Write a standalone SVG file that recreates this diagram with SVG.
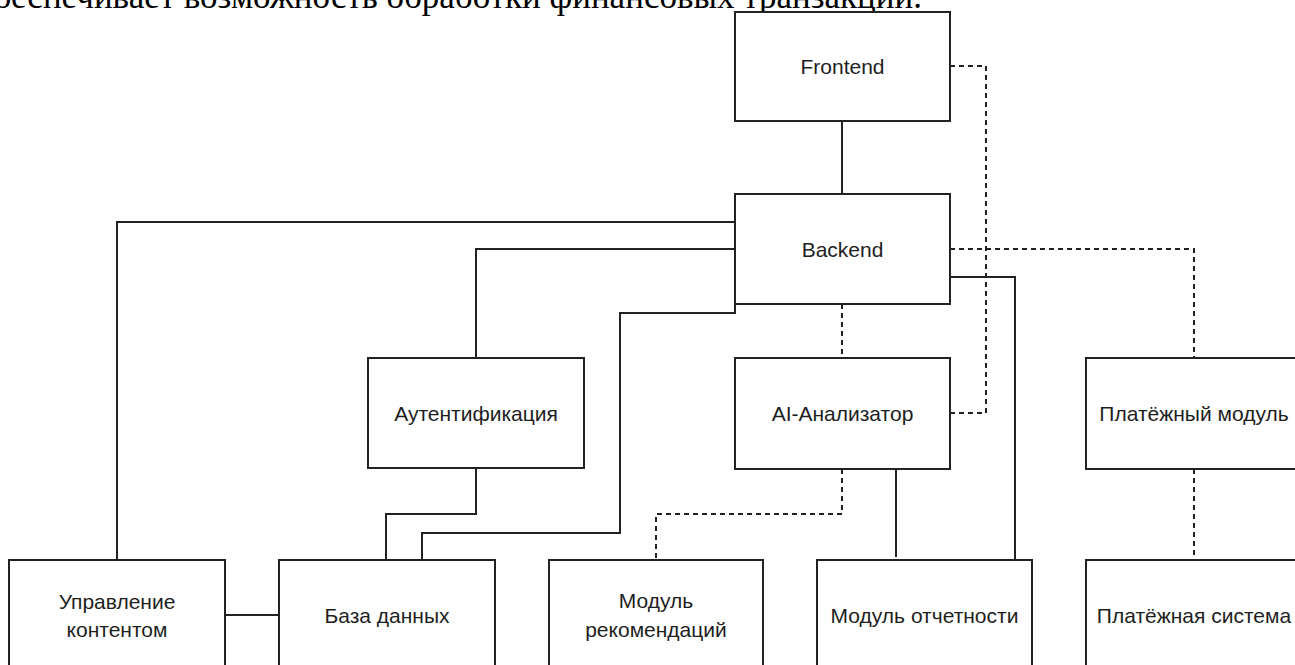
<svg xmlns="http://www.w3.org/2000/svg" width="1295" height="665" viewBox="0 0 1295 665">
<style>
.box{fill:#ffffff;stroke:#222222;stroke-width:2}
.lbl{font-family:"Liberation Sans",Arial,sans-serif;font-size:21px;fill:#1e1e1e;text-anchor:middle;dominant-baseline:central}
.solid{fill:none;stroke:#222222;stroke-width:2}
.dash{fill:none;stroke:#222222;stroke-width:2;stroke-dasharray:5,4}
.doc{font-family:"Liberation Serif","Times New Roman",serif;font-size:35px;fill:#000000}
</style>
<rect x="0" y="0" width="1295" height="665" fill="#ffffff"/>
<text class="doc" x="922" y="8" text-anchor="end">обеспечивает возможность обработки финансовых транзакций.</text>
<g id="connectors">
<path class="solid" d="M842,121 V194"/>
<path class="solid" d="M735,222 H117 V560"/>
<path class="solid" d="M735,249 H476 V358"/>
<path class="solid" d="M735,304 V313 H620 V533 H422 V560"/>
<path class="solid" d="M476,468 V514 H386 V560"/>
<path class="solid" d="M225,615 H279"/>
<path class="solid" d="M950,277 H1015 V560"/>
<path class="solid" d="M896,469 V557"/>
<path class="dash" d="M950,66 H986 V413 H950"/>
<path class="dash" d="M842,304 V358"/>
<path class="dash" d="M950,249 H1194 V358"/>
<path class="dash" d="M842,469 V514 H656 V560"/>
<path class="dash" d="M1194,469 V560"/>
</g>
<g id="frontend"><rect class="box" x="735" y="12" width="215" height="109"/><text class="lbl" x="842.5" y="66">Frontend</text></g>
<g id="backend"><rect class="box" x="735" y="194" width="215" height="110"/><text class="lbl" x="842.5" y="249">Backend</text></g>
<g id="auth"><rect class="box" x="368" y="358" width="216" height="110"/><text class="lbl" x="476" y="413">Аутентификация</text></g>
<g id="ai"><rect class="box" x="735" y="358" width="215" height="111"/><text class="lbl" x="842.5" y="413">AI-Анализатор</text></g>
<g id="paymodule"><rect class="box" x="1086" y="358" width="216" height="111"/><text class="lbl" x="1194" y="413">Платёжный модуль</text></g>
<g id="content"><rect class="box" x="9" y="560" width="216" height="112"/><text class="lbl" x="117" y="601">Управление</text><text class="lbl" x="117" y="629">контентом</text></g>
<g id="db"><rect class="box" x="279" y="560" width="216" height="112"/><text class="lbl" x="387" y="615">База данных</text></g>
<g id="recommend"><rect class="box" x="549" y="560" width="214" height="112"/><text class="lbl" x="656" y="600">Модуль</text><text class="lbl" x="656" y="629">рекомендаций</text></g>
<g id="reports"><rect class="box" x="817" y="560" width="215" height="112"/><text class="lbl" x="924.5" y="615">Модуль отчетности</text></g>
<g id="paysystem"><rect class="box" x="1086" y="560" width="216" height="112"/><text class="lbl" x="1194" y="615">Платёжная система</text></g>
</svg>
